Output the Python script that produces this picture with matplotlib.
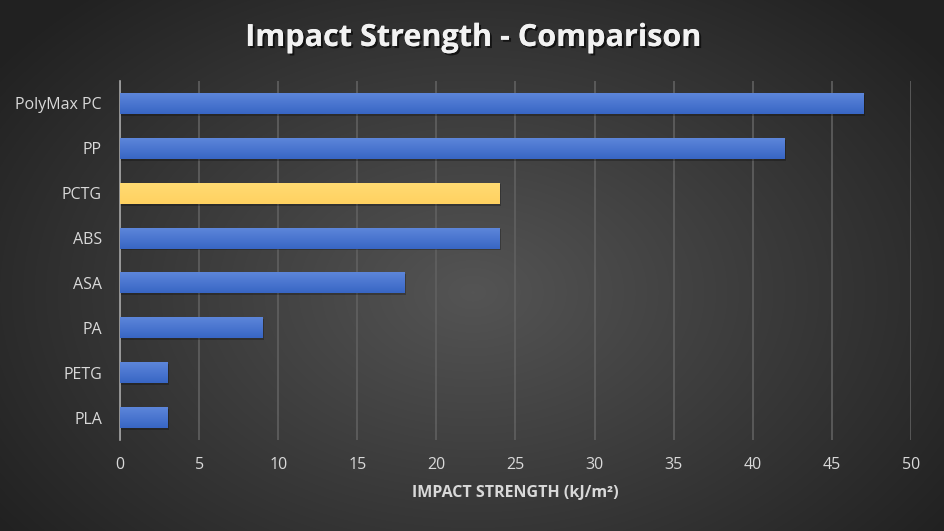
import matplotlib.pyplot as plt
import matplotlib.patheffects as pe
import numpy as np

materials = ['PolyMax PC', 'PP', 'PCTG', 'ABS', 'ASA', 'PA', 'PETG', 'PLA']
strength = [47, 42, 24, 24, 18, 9, 3, 3]
highlight = 'PCTG'

W, H = 945, 531
fig = plt.figure(figsize=(W / 100, H / 100), dpi=100)

# radial background
bg = fig.add_axes([0, 0, 1, 1])
yy, xx = np.mgrid[0:H, 0:W]
r = np.sqrt(((xx - W * 0.5) / (W * 0.62)) ** 2 + ((yy - H * 0.55) / (H * 0.75)) ** 2)
shade = np.clip(0.33 - 0.2 * r, 0.13, 0.35)
bg.imshow(np.dstack([shade] * 3), aspect='auto', extent=[0, 1, 0, 1])
bg.axis('off')

ax = fig.add_axes([120 / W, 1 - 440 / H, (911 - 120) / W, (440 - 81) / H])
ax.patch.set_alpha(0)

y = np.arange(len(materials))[::-1]
grad = np.linspace(1, 0, 50).reshape(-1, 1)
for yi, name, val in zip(y, materials, strength):
    if name == highlight:
        c_top, c_bot = np.array([1.0, 0.86, 0.45]), np.array([1.0, 0.82, 0.38])
    else:
        c_top, c_bot = np.array([0.37, 0.53, 0.86]), np.array([0.22, 0.40, 0.77])
    # soft shadow
    ax.barh(yi - 0.04, val + 0.1, height=0.47, color='black', alpha=0.25, zorder=2)
    bar = ax.barh(yi, val, height=0.47, color=c_bot, zorder=3)[0]
    img = c_bot + (c_top - c_bot) * grad[..., None]
    im = ax.imshow(img, extent=[0, val, yi - 0.235, yi + 0.235], aspect='auto',
                   zorder=4, interpolation='bicubic')
    im.set_clip_path(bar)

ax.set_xlim(0, 50)
ax.set_ylim(-0.5, len(materials) - 0.5)
ax.set_xticks(range(0, 51, 5))
ax.set_yticks(y)
ax.set_yticklabels(materials)
ax.grid(axis='x', color='#606060', linewidth=1.2, zorder=0)
ax.set_axisbelow(True)
for s in ['top', 'right', 'bottom']:
    ax.spines[s].set_visible(False)
ax.spines['left'].set_color('#a6a6a6')
ax.spines['left'].set_linewidth(1.2)
ax.tick_params(length=0, colors='#d9d9d9', labelsize=11.5)
ax.tick_params(axis='y', pad=13)
ax.tick_params(axis='x', pad=12)
for lab in ax.get_xticklabels() + ax.get_yticklabels():
    lab.set_fontfamily('Open Sans')

ax.set_xlabel('IMPACT STRENGTH (kJ/m²)', color='#d9d9d9', fontsize=11.5,
              fontweight='bold', fontfamily='Open Sans', labelpad=9)

fig.text(0.5, 1 - 38 / H, 'Impact Strength - Comparison', ha='center', va='center',
         color='#f2f2f2', fontsize=22, fontweight='bold', fontfamily='Open Sans',
         path_effects=[pe.withSimplePatchShadow(offset=(1.5, -1.5), shadow_rgbFace='black', alpha=0.6),
                       pe.Normal()])

fig.savefig('out.png', dpi=100)
